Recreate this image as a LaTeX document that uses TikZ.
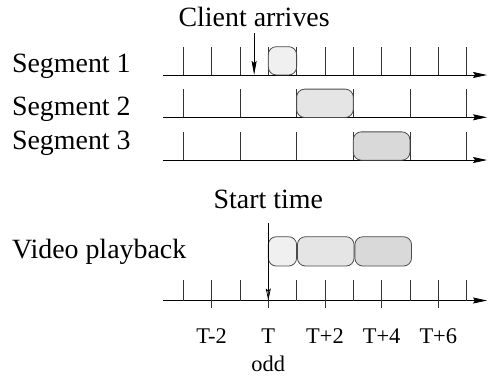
\documentclass[tikz,border=0pt]{standalone}
\usepackage{fontspec}
\setmainfont{Liberation Serif}
\usepackage{xcolor}
\usetikzlibrary{positioning}
\usetikzlibrary{arrows.meta}

\definecolor{segA}{gray}{0.94}
\definecolor{segB}{gray}{0.90}
\definecolor{segC}{gray}{0.85}

\begin{document}
\begin{tikzpicture}[
    x=28.33bp, y=28.33bp,
    lbl/.style={font=\fontsize{28}{33}\selectfont, inner sep=0pt},
    tlbl/.style={font=\fontsize{22.5}{27}\selectfont, inner sep=0pt, anchor=base},
    axis/.style={line width=0.8bp, -{Stealth[length=14bp,width=6bp,inset=2bp]}},
    tick/.style={line width=0.8bp, draw=black!80},
    seg/.style={draw=black!70, line width=0.8bp, rounded corners=8bp, minimum height=28.33bp, inner sep=0pt},
    pseg/.style={seg, minimum height=29.3bp},
    marker/.style={line width=0.8bp, -{Stealth[length=14bp,width=5bp,inset=2bp]}},
    startmark/.style={line width=0.8bp, -{Stealth[open,length=12bp,width=5bp,inset=2bp]}}
]
\useasboundingbox (-6.47,0) rectangle (10.755,-13.449);

% row labels
\node[lbl, anchor=base west] (seg1) at (-6.05,-2.55) {Segment 1};
\node[lbl, anchor=base west] (seg2) at (-6.05,-4.06) {Segment 2};
\node[lbl, anchor=base west] (seg3) at (-6.05,-5.29) {Segment 3};
\node[lbl, anchor=base west] (play) at (-6.05,-9.118) {Video playback};

% segment time lines
\coordinate (s1w) at (-0.717,-2.647);
\coordinate (s1e) at (10.72,-2.647);
\coordinate (s2w) at (-0.717,-4.14);
\coordinate (s2e) at (10.72,-4.14);
\coordinate (s3w) at (-0.717,-5.648);
\coordinate (s3e) at (10.72,-5.648);
\draw[axis] (s1w) -- (s1e);
\draw[axis] (s2w) -- (s2e);
\draw[axis] (s3w) -- (s3e);
\foreach \i in {0,...,10}
    \draw[tick] (\i,-2.647) -- ++(0,1);
\foreach \i in {0,2,...,10} {
    \draw[tick] (\i,-4.14) -- ++(0,0.988);
    \draw[tick] (\i,-5.648) -- ++(0,0.988);
}

% segments
\node[seg, fill=segA, minimum width=28.33bp] (b1) at (3.5,-2.147) {};
\node[seg, fill=segB, minimum width=56.66bp] (b2) at (5,-3.646) {};
\node[seg, fill=segC, minimum width=56.66bp] (b3) at (7,-5.154) {};

% client arrival
\node[lbl, anchor=base] (client) at (2.5,-0.918) {Client arrives};
\coordinate (arr) at (2.5,-2.647);
\draw[marker, shorten <=7bp] (client) -- (arr);

% playback time line
\coordinate (pw) at (-0.717,-10.607);
\coordinate (pe) at (10.72,-10.607);
\draw[axis] (pw) -- (pe);
\foreach \i in {0,...,10}
    \draw[tick] (\i,-10.607) -- ++(0,0.724);
\foreach \i in {1,3,...,9}
    \draw[tick] (\i,-10.607) -- ++(0,-0.265);

\node[pseg, fill=segA, minimum width=28.33bp] (p1) at (3.5,-8.873) {};
\node[pseg, fill=segB, minimum width=56.66bp, right=0pt of p1] (p2) {};
\node[pseg, fill=segC, minimum width=56.66bp, right=0pt of p2] (p3) {};

% start of playback
\node[lbl, anchor=base] (start) at (3,-7.353) {Start time};
\coordinate (tstart) at (3,-10.607);
\draw[startmark, shorten <=14.7bp] (start) -- (tstart);

% time labels
\foreach \i/\t in {1/T-2,3/T,5/T+2,7/T+4,9/T+6}
    \node[tlbl] (t\i) at (\i,-12.12) {\t};
\node[tlbl] (odd) at (3,-13.12) {odd};
\end{tikzpicture}
\end{document}
